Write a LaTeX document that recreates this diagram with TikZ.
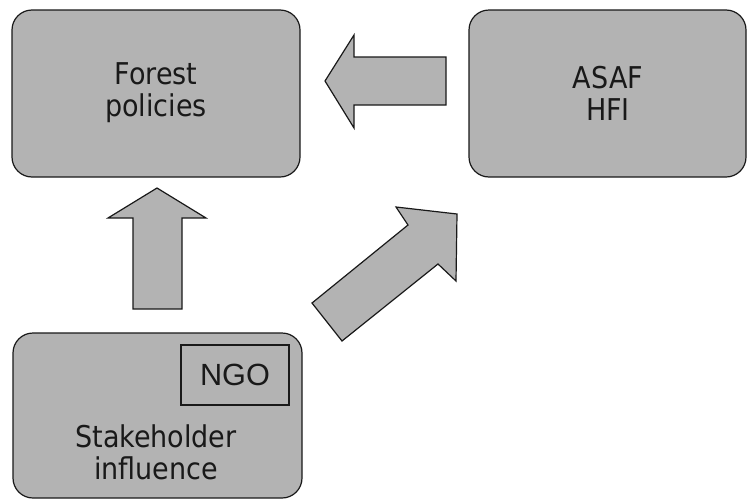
\documentclass[tikz,border=0pt]{standalone}
\usepackage{fontspec}
\setmainfont{DejaVu Sans Condensed}
\newfontfamily\ngofont{Liberation Sans}
\definecolor{boxgrey}{RGB}{179,179,179}
\definecolor{edgegrey}{RGB}{25,25,25}
\tikzset{every picture/.style={line width=0.9pt}}

\begin{document}
\begin{tikzpicture}[x=0.75pt,y=0.75pt,yscale=-1,xscale=1,
  greybox/.style={draw=edgegrey,fill=boxgrey,rounded corners=15pt},
  blockarrow/.style={draw=edgegrey,fill=boxgrey,line join=miter},
  boxtext/.style={inner sep=0.75pt,align=center,text=edgegrey,font=\fontsize{22.5}{24}\selectfont}]
\useasboundingbox (0,0) rectangle (749,500);

%Shape: Rounded Rectangle [forest]
\draw[greybox] (12,10) -- (300,10) -- (300,177) -- (12,177) -- cycle ;
%Shape: Rounded Rectangle [asaf]
\draw[greybox] (469,10) -- (746,10) -- (746,177) -- (469,177) -- cycle ;
%Shape: Rounded Rectangle [stakeholder]
\draw[greybox] (13,333) -- (302,333) -- (302,498) -- (13,498) -- cycle ;
%Shape: Rectangle [ngo]
\draw[draw=edgegrey] (181,345) -- (289,345) -- (289,405) -- (181,405) -- cycle ;

%Shape: Left Arrow
\draw[blockarrow] (325,81) -- (354,35) -- (354,57) -- (446,57) -- (446,105) -- (354,105) -- (354,128) -- cycle ;
%Shape: Up Arrow
\draw[blockarrow] (157,188) -- (206,218) -- (182,218) -- (182,309) -- (133,309) -- (133,218) -- (108,218) -- cycle ;
%Shape: Diagonal Arrow
\draw[blockarrow] (312,303) -- (408,225) -- (396,207) -- (457,214) -- (456,281) -- (438,264) -- (342,341) -- cycle ;

% Text Node
\node[boxtext] (forest) at (156,93) {Forest\\policies};
% Text Node
\node[boxtext] (asaf) at (608,93) {ASAF\\HFI};
% Text Node
\node[boxtext] (stake) at (156,452) {Stakeholder\\influence};
% Text Node
\node[boxtext,font=\ngofont\fontsize{23}{24}\selectfont] (ngo) at (235,375) {NGO};

\end{tikzpicture}
\end{document}
